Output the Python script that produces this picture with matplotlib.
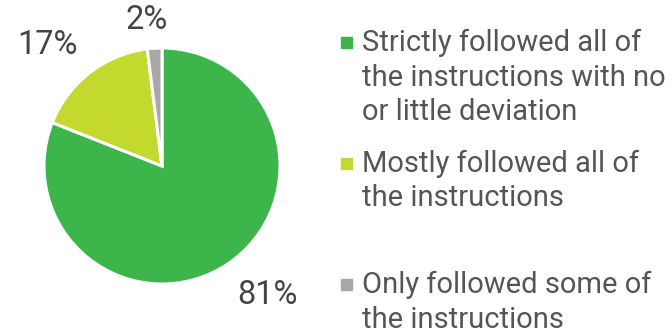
import numpy as np
import matplotlib
matplotlib.use("Agg")
import matplotlib.pyplot as plt

# survey answers
labels = ["Strictly followed all of\nthe instructions with no\nor little deviation",
          "Mostly followed all of\nthe instructions",
          "Only followed some of\nthe instructions"]
shares = [81, 17, 2]
colors = ["#3cb54b", "#c3d92e", "#a8a8a8"]

# small tweaks so the % labels sit where the original puts them
label_dist = [1.41, 1.41, 1.24]
label_shift = [5.2, 5.7, 2.3]

plt.rcParams["font.family"] = ["Roboto", "DejaVu Sans"]

W, H = 672, 332
fig = plt.figure(figsize=(W / 100, H / 100), dpi=100)

# pie: centre (162, 166) px, radius 118 px
cx, cy, r = 162, 166, 118
ax = fig.add_axes([(cx - r) / W, (H - cy - r) / H, 2 * r / W, 2 * r / H])
wedges, _ = ax.pie(shares, colors=colors, startangle=90, counterclock=False,
                   wedgeprops=dict(edgecolor="white", linewidth=2.2))
ax.set_xlim(-1, 1)
ax.set_ylim(-1, 1)
ax.set_aspect("equal")
ax.axis("off")

for w, s, d, sh in zip(wedges, shares, label_dist, label_shift):
    mid = np.deg2rad((w.theta1 + w.theta2) / 2 + sh)
    ax.text(d * np.cos(mid), d * np.sin(mid), f"{s}%", ha="center", va="center",
            fontsize=23.5, color="#444444", clip_on=False)

# legend drawn by hand (items evenly spaced like the original)
lx, first_base, item_step, line_step = 362, 51, 121, 34.5
for i, (lab, col) in enumerate(zip(labels, colors)):
    base = first_base + item_step * i
    fig.patches.append(plt.Rectangle(((lx - 21) / W, (H - base + 3) / H), 11 / W, 11 / H,
                                     transform=fig.transFigure, color=col))
    for j, line in enumerate(lab.split("\n")):
        fig.text(lx / W, (H - base - line_step * j) / H, line, ha="left", va="baseline",
                 fontsize=21, color="#555555")

fig.savefig("out.png", dpi=100)
